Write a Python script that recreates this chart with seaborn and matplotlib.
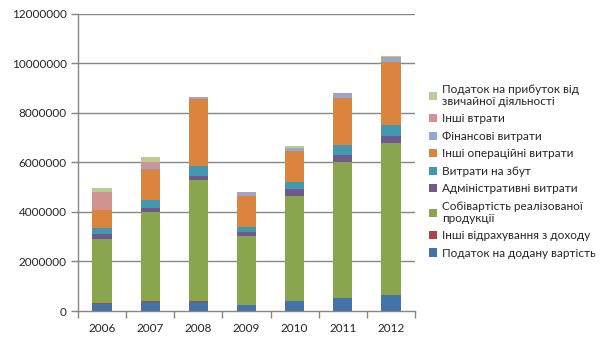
import matplotlib
matplotlib.use("Agg")
import matplotlib.pyplot as plt
from matplotlib.patches import Patch
import seaborn as sns
import pandas as pd
import numpy as np

years = ["2006", "2007", "2008", "2009", "2010", "2011", "2012"]

series_names = [
    "Податок на додану вартість",
    "Інші відрахування з доходу",
    "Собівартість реалізованої\nпродукції",
    "Адміністративні витрати",
    "Витрати на збут",
    "Інші операційні витрати",
    "Фінансові витрати",
    "Інші втрати",
    "Податок на прибуток від\nзвичайної діяльності",
]

vat           = [300000, 380000, 380000, 240000, 400000, 510000, 650000]
other_deduct  = [30000, 40000, 40000, 10000, 10000, 10000, 10000]
cogs          = [2580000, 3580000, 4870000, 2780000, 4240000, 5500000, 6130000]
admin         = [200000, 160000, 160000, 160000, 280000, 280000, 280000]
sales         = [240000, 320000, 410000, 190000, 280000, 410000, 450000]
other_oper    = [730000, 1260000, 2680000, 1270000, 1250000, 1900000, 2540000]
finance       = [10000, 50000, 80000, 100000, 110000, 130000, 160000]
other_losses  = [690000, 230000, 30000, 30000, 20000, 40000, 20000]
profit_tax    = [200000, 200000, 0, 0, 80000, 30000, 60000]

series_values = [vat, other_deduct, cogs, admin, sales, other_oper,
                 finance, other_losses, profit_tax]

colors = ["#4572A7", "#AA4643", "#89A54E", "#71588F", "#4198AF",
          "#DB843D", "#93A9CF", "#D19392", "#B9CD96"]

yticks = [0, 2000000, 4000000, 6000000, 8000000, 10000000, 12000000]

sns.set_theme(style="white")
plt.rcParams["font.family"] = ["Lato", "DejaVu Sans"]

fig = plt.figure(figsize=(6.05, 3.4), dpi=100)
ax = fig.add_axes([78 / 605, 29 / 340, (415 - 78) / 605, (311 - 13.5) / 340])

cum = np.cumsum(np.array(series_values, dtype=float), axis=0)
for i in range(len(series_values) - 1, -1, -1):
    df = pd.DataFrame({"year": years, "value": cum[i]})
    sns.barplot(data=df, x="year", y="value", color=colors[i], saturation=1,
                width=0.4, ax=ax, order=years, errorbar=None,
                edgecolor="none", linewidth=0, zorder=3)

grid_col = "#868686"
ax.set_ylim(0, 12000000)
ax.set_xlim(-0.5, len(years) - 0.5)
ax.set_yticks(yticks)
ax.set_yticklabels([str(v) for v in yticks])
for v in yticks[1:]:
    ax.axhline(v, color=grid_col, lw=1.0, zorder=1)

for s in ["top", "right"]:
    ax.spines[s].set_visible(False)
for s in ["left", "bottom"]:
    ax.spines[s].set_color(grid_col)
    ax.spines[s].set_linewidth(1.0)
    ax.spines[s].set_zorder(4)

ax.set_xlabel("")
ax.set_ylabel("")
ax.set_xticks(np.arange(-0.5, len(years) + 0.5, 1.0), minor=True)
ax.tick_params(axis="x", which="major", length=0, pad=9, labelsize=8.5,
               labelcolor="#262626")
ax.tick_params(axis="x", which="minor", length=5, width=1.0, color=grid_col,
               direction="out", bottom=True)
ax.tick_params(axis="y", which="major", length=5, width=1.0, color=grid_col,
               direction="out", left=True, pad=3, labelsize=8.5,
               labelcolor="#262626")

handles = [Patch(facecolor=colors[i], edgecolor="none", label=series_names[i])
           for i in range(len(series_names) - 1, -1, -1)]
leg = fig.legend(handles=handles, loc="upper left",
                 bbox_to_anchor=(429 / 605, 1 - 84 / 340),
                 frameon=False, fontsize=8.5, handlelength=0.7,
                 handleheight=0.7, handletextpad=0.4, labelspacing=0.55,
                 borderaxespad=0, borderpad=0)
for t in leg.get_texts():
    t.set_color("#262626")
    t.set_linespacing(1.1)

fig.savefig("out.png", dpi=100)
